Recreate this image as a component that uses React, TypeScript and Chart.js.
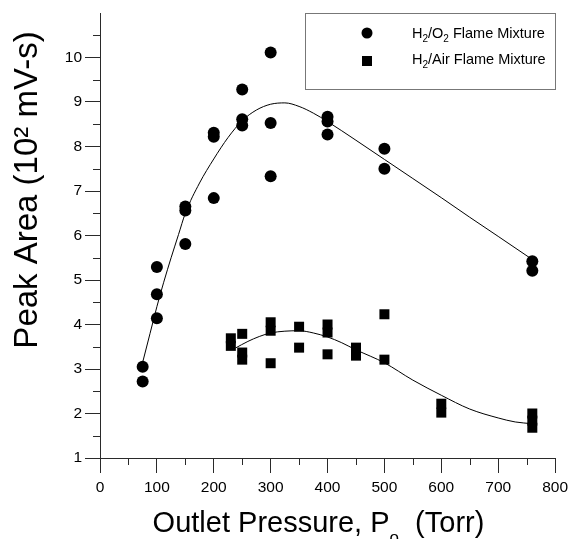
import React, { useEffect, useRef } from 'react';
import { Chart, registerables } from 'chart.js';

Chart.register(...registerables);

const FONT = '"Liberation Sans", Arial, Helvetica, sans-serif';

// H2/O2 flame mixture (circles)
const o2Pressure = [75, 75, 100, 100, 100, 150, 150, 150, 200, 200, 200, 250, 250, 250, 300, 300, 300, 400, 400, 400, 500, 500, 760, 760];
const o2Area = [3.05, 2.72, 5.29, 4.68, 4.14, 6.65, 6.56, 5.81, 8.31, 8.22, 6.84, 9.28, 8.61, 8.47, 10.11, 8.53, 7.33, 8.67, 8.56, 8.27, 7.95, 7.5, 5.42, 5.21];

// H2/Air flame mixture (squares)
const airPressure = [230, 230, 250, 250, 250, 300, 300, 300, 350, 350, 400, 400, 400, 450, 450, 500, 500, 600, 600, 760, 760, 760];
const airArea = [3.69, 3.52, 3.79, 3.37, 3.21, 4.05, 3.86, 3.13, 3.95, 3.48, 4.0, 3.82, 3.33, 3.48, 3.3, 4.23, 3.21, 2.22, 2.02, 2.0, 1.84, 1.68];

// fitted curves
const o2FitPressure = [75, 88, 100, 112, 125, 138, 150, 175, 200, 225, 250, 275, 300, 325, 350, 375, 400, 450, 500, 550, 600, 650, 700, 760];
const o2FitArea = [3.15, 3.8, 4.4, 4.95, 5.5, 6.02, 6.5, 7.18, 7.72, 8.2, 8.58, 8.82, 8.95, 8.98, 8.9, 8.75, 8.56, 8.14, 7.71, 7.28, 6.85, 6.41, 5.98, 5.46];
const airFitPressure = [238, 260, 280, 300, 325, 350, 375, 400, 425, 450, 475, 500, 550, 600, 650, 700, 730, 760];
const airFitArea = [3.47, 3.62, 3.73, 3.81, 3.85, 3.86, 3.81, 3.72, 3.59, 3.43, 3.29, 3.14, 2.75, 2.41, 2.1, 1.9, 1.81, 1.77];

// axes
const xMin = 0;
const xMax = 800;
const xStep = 100;
const yMin = 1;
const yMax = 11;
const yStep = 1;
const xMinorTicks = [50, 150, 250, 350, 450, 550, 650, 750];
const yMinorTicks = [1.5, 2.5, 3.5, 4.5, 5.5, 6.5, 7.5, 8.5, 9.5, 10.5];

const yTitle = 'Peak Area (10\u00B2 mV-s)';
const xTitleMain = 'Outlet Pressure, P';
const xTitleSub = 'o';
const xTitleEnd = '  (Torr)';
const legendO2 = ['H', '2', '/O', '2', ' Flame Mixture'];
const legendAir = ['H', '2', '/Air Flame Mixture'];

const AXIS_COLOR = '#2a2a2a';

const toPoints = (xs: number[], ys: number[]) => xs.map((x, i) => ({ x, y: ys[i] }));

function drawRich(ctx: CanvasRenderingContext2D, parts: string[], x: number, y: number, size: number, subSize: number, subShift: number) {
  let cx = x;
  parts.forEach((p, i) => {
    const isSub = i % 2 === 1;
    ctx.font = `${isSub ? subSize : size}px ${FONT}`;
    ctx.fillText(p, cx, isSub ? y + subShift : y);
    cx += ctx.measureText(p).width;
  });
}

const decorPlugin = {
  id: 'decor',
  afterDraw(chart: any) {
    const { ctx, chartArea, scales } = chart;
    const xs = scales.x;
    const ys = scales.y;
    ctx.save();
    // minor ticks
    ctx.strokeStyle = AXIS_COLOR;
    ctx.lineWidth = 1;
    ctx.beginPath();
    yMinorTicks.forEach((v) => {
      const py = Math.round(ys.getPixelForValue(v)) + 0.5;
      ctx.moveTo(chartArea.left - 7, py);
      ctx.lineTo(chartArea.left, py);
    });
    xMinorTicks.forEach((v) => {
      const px = Math.round(xs.getPixelForValue(v)) + 0.5;
      ctx.moveTo(px, chartArea.bottom);
      ctx.lineTo(px, chartArea.bottom + 7);
    });
    ctx.stroke();

    ctx.fillStyle = '#000';
    ctx.textBaseline = 'alphabetic';

    // y title
    ctx.save();
    ctx.translate(37, 190);
    ctx.rotate(-Math.PI / 2);
    ctx.font = `33px ${FONT}`;
    ctx.textAlign = 'center';
    ctx.fillText(yTitle, 0, 0);
    ctx.restore();

    // x title with subscript
    ctx.textAlign = 'left';
    const big = 29;
    const small = 17;
    ctx.font = `${big}px ${FONT}`;
    const w1 = ctx.measureText(xTitleMain).width;
    const w3 = ctx.measureText(xTitleEnd).width;
    ctx.font = `${small}px ${FONT}`;
    const w2 = ctx.measureText(xTitleSub).width;
    const total = w1 + w2 + w3;
    let sx = 318.5 - total / 2;
    const baseY = 532;
    ctx.font = `${big}px ${FONT}`;
    ctx.fillText(xTitleMain, sx, baseY);
    sx += w1;
    ctx.font = `${small}px ${FONT}`;
    ctx.fillText(xTitleSub, sx, baseY + 11);
    sx += w2;
    ctx.font = `${big}px ${FONT}`;
    ctx.fillText(xTitleEnd, sx, baseY);

    // legend box
    ctx.strokeStyle = '#777';
    ctx.lineWidth = 1;
    ctx.strokeRect(305.5, 13.5, 250, 76);
    ctx.fillStyle = '#000';
    ctx.beginPath();
    ctx.arc(367, 33, 5.5, 0, Math.PI * 2);
    ctx.fill();
    ctx.fillRect(362, 56, 10, 10);
    drawRich(ctx, legendO2, 412, 37.5, 14.5, 10, 4);
    drawRich(ctx, legendAir, 412, 63.5, 14.5, 10, 4);
    ctx.restore();
  },
};

export default function App() {
  const ref = useRef<HTMLCanvasElement | null>(null);
  useEffect(() => {
    if (!ref.current) return;
    const chart = new Chart(ref.current, {
      type: 'scatter',
      data: {
        datasets: [
          {
            label: 'H2/O2 Flame Mixture',
            data: toPoints(o2Pressure, o2Area),
            pointStyle: 'circle',
            pointRadius: 6,
            backgroundColor: '#000',
            borderColor: '#000',
            borderWidth: 0,
          },
          {
            label: 'H2/Air Flame Mixture',
            data: toPoints(airPressure, airArea),
            pointStyle: 'rect',
            pointRadius: 7.07,
            backgroundColor: '#000',
            borderColor: '#000',
            borderWidth: 0,
          },
          {
            label: 'O2 fit',
            data: toPoints(o2FitPressure, o2FitArea),
            showLine: true,
            pointRadius: 0,
            borderColor: '#000',
            borderWidth: 1,
            cubicInterpolationMode: 'monotone',
          } as any,
          {
            label: 'Air fit',
            data: toPoints(airFitPressure, airFitArea),
            showLine: true,
            pointRadius: 0,
            borderColor: '#000',
            borderWidth: 1,
            cubicInterpolationMode: 'monotone',
          } as any,
        ],
      },
      options: {
        animation: false,
        responsive: false,
        events: [],
        layout: { padding: { left: 0, top: 13, right: 15, bottom: 0 } },
        plugins: { legend: { display: false }, tooltip: { enabled: false } },
        scales: {
          x: {
            type: 'linear',
            min: xMin,
            max: xMax,
            afterFit: (s: any) => { s.height = 81; },
            ticks: {
              stepSize: xStep,
              autoSkip: false,
              maxRotation: 0,
              color: '#000',
              padding: 5,
              font: { family: FONT, size: 15.5 },
            },
            grid: { display: true, drawOnChartArea: false, drawTicks: true, tickLength: 15, color: AXIS_COLOR, lineWidth: 1 },
            border: { display: true, color: AXIS_COLOR, width: 1 },
          },
          y: {
            type: 'linear',
            min: yMin,
            max: yMax,
            afterFit: (s: any) => { s.width = 100; },
            ticks: {
              stepSize: yStep,
              autoSkip: false,
              color: '#000',
              padding: 3,
              font: { family: FONT, size: 15.5 },
              callback: (v: any) => (v === yMax ? null : String(v)),
            },
            grid: { display: true, drawOnChartArea: false, drawTicks: true, tickLength: 15, color: AXIS_COLOR, lineWidth: 1 },
            border: { display: true, color: AXIS_COLOR, width: 1 },
          },
        },
      },
      plugins: [decorPlugin],
    } as any);
    return () => chart.destroy();
  }, []);

  return (
    <div style={{ position: 'absolute', left: 0, top: 0, width: 573, height: 539, background: '#fff' }}>
      <canvas ref={ref} width={573} height={539} style={{ display: 'block', width: 573, height: 539 }} />
    </div>
  );
}
